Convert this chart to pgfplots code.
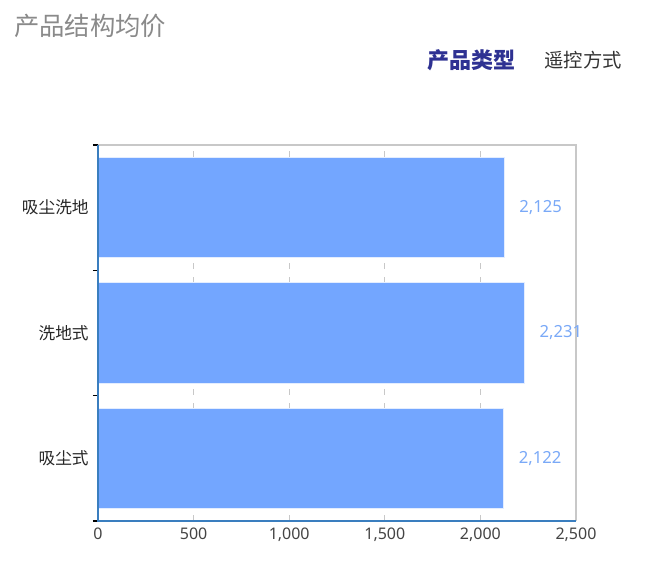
\documentclass[border=0pt]{standalone}
\usepackage{pgfplots}
\pgfplotsset{compat=1.18}
\usepackage{fontspec}
\setmainfont{Noto Sans}
\newfontfamily\cjk{Noto Sans CJK SC}

\definecolor{barblue}{HTML}{73A6FF}
\definecolor{valblue}{HTML}{7AA9F7}
\definecolor{axblue}{HTML}{3A7EBF}
\definecolor{gridgray}{HTML}{C8C8C8}
\definecolor{titlegray}{HTML}{8A8A8A}
\definecolor{legnavy}{HTML}{2E3192}
\definecolor{labgray}{HTML}{444444}

\begin{document}
\begin{tikzpicture}
\useasboundingbox (0,0) rectangle (487.5pt,422.25pt);

% title and tabs
\node[anchor=west, text=titlegray, font=\cjk\fontsize{19}{21}\selectfont, inner sep=0pt]
  at (10.5pt,402.75pt) {产品结构均价};
\node[text=legnavy, font=\cjk\bfseries\fontsize{16.5}{18}\selectfont, inner sep=0pt]
  at (353.25pt,377.25pt) {产品类型};
\node[text=black!80, font=\cjk\fontsize{14.5}{16}\selectfont, inner sep=0pt]
  at (437.25pt,377.25pt) {遥控方式};

\begin{axis}[
    name=ax,
    at={(73.5pt,31.5pt)}, anchor=south west,
    scale only axis, width=358.5pt, height=282pt,
    clip=false,
    xbar, bar width=0.8,
    xmin=0, xmax=2500,
    ymin=-0.5, ymax=2.5,
    xtick={0,500,1000,1500,2000,2500},
    ytick={0,1,2},
    yticklabels={吸尘式,洗地式,吸尘洗地},
    extra y ticks={-0.5,0.5,1.5,2.5},
    extra y tick labels={},
    extra y tick style={major tick length=3.75pt, tick style={black, line width=0.9pt}, tick align=outside, grid=none},
    major tick length=0pt,
    xmajorgrids,
    major grid style={gridgray, line width=1pt, dash pattern=on 4.5pt off 6pt},
    axis line style={draw=none},
    /pgf/number format/1000 sep={,},
    /pgf/number format/assume math mode=true,
    xticklabel style={text=labgray, font=\fontsize{12}{14}\selectfont, yshift=-2pt},
    yticklabel style={text=black!85, font=\cjk\fontsize{12.5}{14}\selectfont, xshift=-3.5pt},
    nodes near coords,
    nodes near coords style={anchor=west, xshift=10pt, text=valblue, inner xsep=1pt, font=\fontsize{12.5}{14}\selectfont},
    tick pos=left,
]
\draw[gridgray, line width=1pt] (rel axis cs:0,1) -- (rel axis cs:1,1) -- (rel axis cs:1,0);
\addplot[fill=barblue, draw=white!80!barblue, line width=0.6pt] coordinates {
    (2122,0)
    (2231,1)
    (2125,2)
};
\end{axis}
\draw[axblue, line width=2pt] (ax.north west) -- (ax.south west) -- (ax.south east);
\end{tikzpicture}
\end{document}
